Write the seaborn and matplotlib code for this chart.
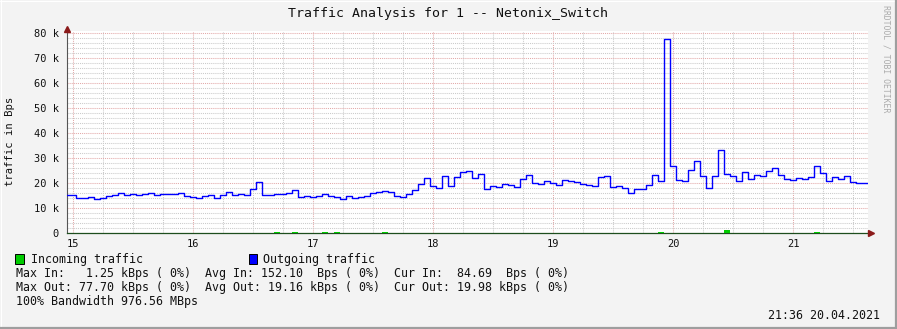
import numpy as np
import pandas as pd
import matplotlib
matplotlib.use("Agg")
import matplotlib.pyplot as plt
from matplotlib.patches import Rectangle
from matplotlib.lines import Line2D
import seaborn as sns

# ---------------- data ----------------
start_hour = 14.925          # start of first 3-minute sample (hours)
step_hours = 0.05            # 3 minutes

outgoing_k = [
    15.2, 15.2, 13.9, 13.9, 14.3, 13.5, 13.9, 14.7, 15.1, 15.9,
    15.2, 15.6, 15.3, 15.6, 15.9, 15.3, 15.6, 15.6, 15.6, 15.9,
    14.8, 14.4, 14.0, 14.7, 15.1, 14.0, 15.2, 16.3, 15.3, 15.6,
    15.2, 17.5, 20.3, 15.3, 15.3, 15.6, 15.6, 15.9, 17.1, 14.4,
    14.8, 14.4, 14.8, 15.6, 14.8, 14.4, 13.5, 14.7, 13.9, 14.3,
    14.7, 15.9, 16.3, 16.7, 16.3, 14.7, 14.3, 15.5, 17.1, 19.5,
    21.9, 18.7, 17.9, 22.7, 18.7, 22.3, 24.3, 24.7, 21.9, 23.5,
    17.5, 18.7, 18.3, 19.5, 19.1, 18.3, 21.5, 23.1, 19.9, 19.5,
    20.7, 19.9, 19.1, 21.1, 20.7, 20.3, 19.5, 19.1, 18.7, 22.3,
    22.7, 18.3, 18.7, 17.9, 15.9, 17.7, 17.5, 19.2, 23.1, 20.7,
    77.7, 26.7, 21.1, 20.7, 25.1, 28.7, 22.7, 17.9, 22.7, 33.1,
    23.5, 22.7, 20.7, 24.3, 21.5, 23.1, 22.7, 24.7, 25.9, 23.1,
    21.5, 21.1, 21.9, 21.5, 22.3, 26.7, 23.9, 20.7, 22.3, 21.5,
    22.7, 20.3, 19.9, 19.9,
]
incoming_idx = [35, 38, 43, 45, 53, 99, 110, 125]
incoming_k = [0.4, 0.4, 0.4, 0.4, 0.4, 0.4, 1.25, 0.4]

y_ticks = [0, 10000, 20000, 30000, 40000, 50000, 60000, 70000, 80000]
y_tick_labels = ["0", "10 k", "20 k", "30 k", "40 k", "50 k", "60 k", "70 k", "80 k"]
x_ticks = [15, 16, 17, 18, 19, 20, 21]
x_tick_labels = ["15", "16", "17", "18", "19", "20", "21"]

title = "Traffic Analysis for 1 -- Netonix_Switch"
y_label = "traffic in Bps"
legend_in = "Incoming traffic"
legend_out = "Outgoing traffic"
stat_lines = [
    "Max In:   1.25 kBps ( 0%)  Avg In: 152.10  Bps ( 0%)  Cur In:  84.69  Bps ( 0%)",
    "Max Out: 77.70 kBps ( 0%)  Avg Out: 19.16 kBps ( 0%)  Cur Out: 19.98 kBps ( 0%)",
    "100% Bandwidth 976.56 MBps",
]
timestamp = "21:36 20.04.2021"
watermark = "RRDTOOL / TOBI OETIKER"

# ---------------- build ----------------
n = len(outgoing_k)
t = start_hour + step_hours * np.arange(n + 1)
out_vals = np.array(outgoing_k + [outgoing_k[-1]]) * 1000.0
in_arr = np.zeros(n + 1)
for i, v in zip(incoming_idx, incoming_k):
    in_arr[i] = v * 1000.0
df = pd.DataFrame({"hour": t, "out": out_vals, "in": in_arr})

W, H, DPI = 897, 329, 100
sns.set_style("white")
plt.rcParams["font.family"] = ["DejaVu Sans Mono"]

fig = plt.figure(figsize=(W / DPI, H / DPI), dpi=DPI, facecolor="#F3F3F3")


def fx(px):
    return px / W


def fy(py):
    return 1 - py / H


ax_l, ax_r, ax_t, ax_b = 67, 868, 31, 233
ax = fig.add_axes([fx(ax_l), fy(ax_b), (ax_r - ax_l) / W, (ax_b - ax_t) / H])
ax.set_facecolor("white")

# incoming area
ax.fill_between(df["hour"], 0, df["in"], step="post", color="#00CC00", lw=0, zorder=3)
# outgoing line
sns.lineplot(data=df, x="hour", y="out", drawstyle="steps-post", color="#0000FF",
             lw=1.0, ax=ax, zorder=4, sort=False)

x0 = 15 + (ax_l - 73.33) / 120.0
x1 = 15 + (ax_r - 73.33) / 120.0
y1 = (ax_b - ax_t) * 400.0

ax.set_xticks(x_ticks)
ax.set_xticklabels(x_tick_labels)
ax.set_xticks(np.arange(15, 21.6, 0.25), minor=True)
ax.set_yticks(y_ticks)
ax.set_yticklabels(y_tick_labels)
ax.set_yticks(np.arange(0, 80001, 2000), minor=True)
ax.set_xlim(x0, x1)
ax.set_ylim(0, y1)

ax.grid(which="minor", color="#CBCBCB", lw=0.75, ls=(0, (1, 1)), zorder=1)
ax.grid(which="major", color="#E3A9A9", lw=0.75, ls=(0, (1, 1)), zorder=2)

ax.tick_params(axis="both", which="major", length=2.5, width=0.7, color="#555555",
               labelsize=7.5, labelcolor="#111111", direction="out")
ax.tick_params(axis="both", which="minor", length=1.5, width=0.6, color="#888888",
               direction="out")
ax.tick_params(axis="y", pad=3.5)
ax.tick_params(axis="x", pad=1.5)

for s in ["top", "right"]:
    ax.spines[s].set_visible(False)
ax.spines["left"].set_color("#555555")
ax.spines["left"].set_linewidth(0.8)
ax.spines["bottom"].set_color("#1E4E1E")
ax.spines["bottom"].set_linewidth(0.9)
ax.set_xlabel("")
ax.set_ylabel("")

# axis arrows
ax.plot([0], [1.01], marker="^", ms=4.5, color="#8B1A1A", transform=ax.transAxes,
        clip_on=False, zorder=6)
ax.plot([1.004], [0], marker=">", ms=4.5, color="#8B1A1A", transform=ax.transAxes,
        clip_on=False, zorder=6)

# texts
fig.text(fx(448), fy(13), title, ha="center", va="center", fontsize=9.5, color="#111111")
fig.text(fx(10), fy(141), y_label, ha="center", va="center", rotation=90,
         fontsize=7.6, color="#111111")
fig.text(fx(886), fy(59), watermark, ha="center", va="center", rotation=270,
         fontsize=5.9, color="#ABABAB")

# legend
for (x_sq, col, label, x_txt) in [(15.3, "#00CC00", legend_in, 30.6),
                                  (248.8, "#0000FF", legend_out, 263.3)]:
    fig.add_artist(Rectangle((fx(x_sq), fy(263.5)), 8.2 / W, 9.2 / H,
                             transform=fig.transFigure, facecolor=col,
                             edgecolor="#000000", lw=0.7))
    fig.text(fx(x_txt), fy(259), label, ha="left", va="center", fontsize=8.4,
             color="#111111")

for k, line in enumerate(stat_lines):
    fig.text(fx(15.5), fy(273.3 + 14 * k), line, ha="left", va="center",
             fontsize=8.4, color="#111111")

fig.text(fx(880), fy(315.3), timestamp, ha="right", va="center", fontsize=8.4,
         color="#111111")

# border
fig.add_artist(Line2D([0, 1], [fy(0.5), fy(0.5)], transform=fig.transFigure,
                      color="#FFFFFF", lw=0.8))
fig.add_artist(Line2D([fx(0.5), fx(0.5)], [0, 1], transform=fig.transFigure,
                      color="#FFFFFF", lw=0.8))
fig.add_artist(Line2D([0, 1], [fy(328), fy(328)], transform=fig.transFigure,
                      color="#9E9E9E", lw=1.6))
fig.add_artist(Line2D([fx(896), fx(896)], [0, 1], transform=fig.transFigure,
                      color="#9E9E9E", lw=1.6))

fig.savefig("out.png", dpi=DPI, facecolor=fig.get_facecolor())
